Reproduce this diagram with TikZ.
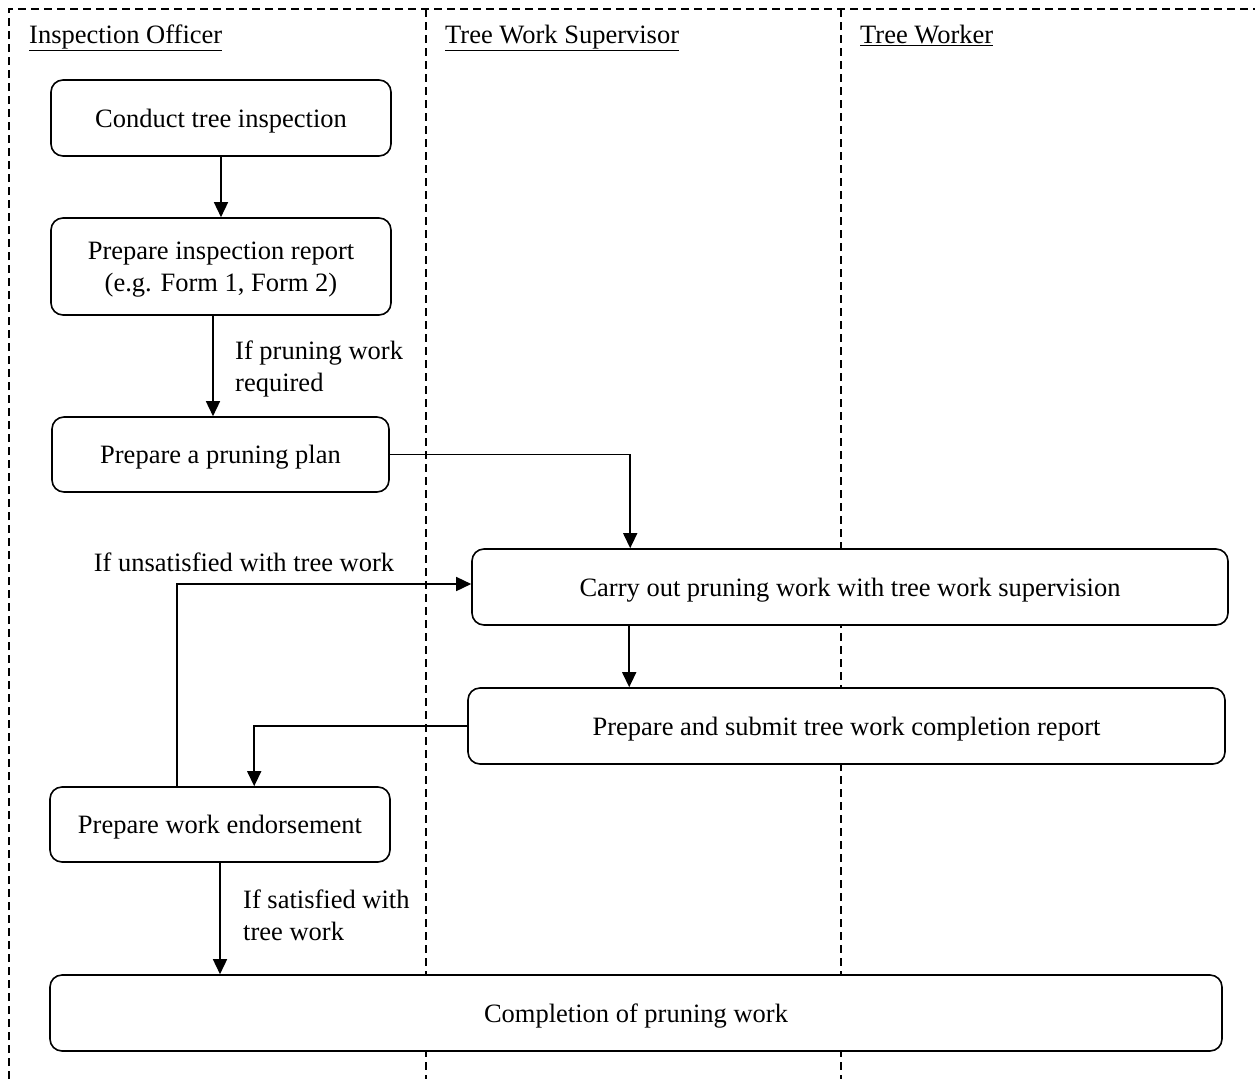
\documentclass[tikz,border=0pt]{standalone}
\usepackage{fontspec}
\setmainfont{Liberation Serif}
\usetikzlibrary{arrows.meta,calc}
\begin{document}
\begin{tikzpicture}[x=1pt,y=-1pt,
  font=\fontsize{26.5}{32}\selectfont,
  proc/.style={draw,fill=white,line width=1.6pt,rounded corners=12pt,align=center,inner sep=0pt,text depth=0pt},
  lane/.style={dashed,line width=1.3pt,dash pattern=on 8pt off 5pt},
  conn/.style={line width=1.5pt},
  arr/.style={conn,-{Triangle[length=15pt,width=14pt]}},
  lbl/.style={inner sep=0pt,align=left,anchor=west}]
\useasboundingbox (0,0) rectangle (1255,1079);
% lanes
\draw[lane] (9,1079) -- (9,9) -- (1262,9);
\draw[lane] (426,9) -- (426,1079);
\draw[lane] (841,9) -- (841,1079);
\node[anchor=base west,inner sep=0pt] (h1) at (29,43) {\underline{Inspection Officer}};
\node[anchor=base west,inner sep=0pt] (h2) at (445,43) {\underline{Tree Work Supervisor}};
\node[anchor=base west,inner sep=0pt] (h3) at (860,43) {\underline{Tree Worker}};
% boxes
\node[proc,minimum width=340pt,minimum height=76pt] (b1) at (221,118) {Conduct tree inspection};
\node[proc,minimum width=340pt,minimum height=97pt] (b2) at (221,266.5) {Prepare inspection report\\(e.g. Form 1, Form 2)};
\node[proc,minimum width=337pt,minimum height=75pt] (b3) at (220.5,454.5) {Prepare a pruning plan};
\node[proc,minimum width=756pt,minimum height=76pt] (b4) at (850,587) {Carry out pruning work with tree work supervision};
\node[proc,minimum width=757pt,minimum height=76pt] (b5) at (846.5,726) {Prepare and submit tree work completion report};
\node[proc,minimum width=340pt,minimum height=75pt] (b6) at (220,824.5) {Prepare work endorsement};
\node[proc,minimum width=1172pt,minimum height=76pt] (b7) at (636,1013) {Completion of pruning work};
% connectors
\draw[arr] (b1.south) -- (b2.north);
\draw[arr] ([xshift=-8pt]b2.south) -- ([xshift=-8pt]b2.south |- b3.north);
\node[lbl] (l1) at (235,369) {If pruning work\\required};
\draw[arr] (b3.east) -| ([xshift=159pt]b4.north west);
\draw[arr] ([xshift=158pt]b4.south west) -- ([xshift=158pt]b4.south west |- b5.north);
\draw[arr] (b5.west) -| ([xshift=205pt]b6.north west);
\draw[arr] ([xshift=128pt]b6.north west) |- ([yshift=3pt]b4.west);
\node[inner sep=0pt] (l2) at (244,562) {If unsatisfied with tree work};
\draw[arr] (b6.south) -- (b6.south |- b7.north);
\node[lbl] (l3) at (243,915) {If satisfied with\\tree work};
\end{tikzpicture}
\end{document}
